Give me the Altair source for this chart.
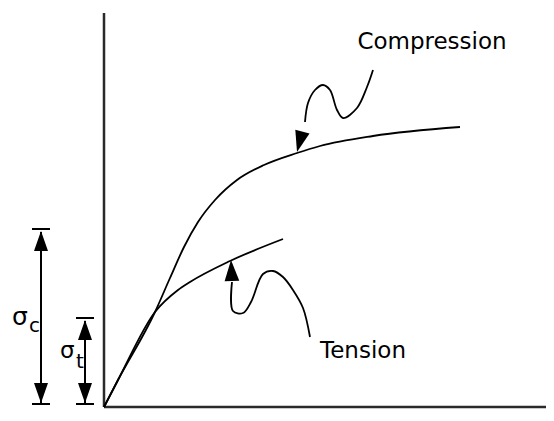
import math
import altair as alt
import pandas as pd

# ---- data (origin = corner of the axes; x = strain, y = stress) ----
comp_x = [0, 14, 51, 66, 80, 94, 111, 133, 160, 193, 216, 269, 356]
comp_y = [0, 27, 95, 129, 160, 185, 207, 227, 242, 254, 261, 271, 280]
tens_x = [0, 14, 51, 74, 86, 126, 179]
tens_y = [0, 27, 95, 117, 125, 146, 168]

# leader (squiggle) lines, from their free end to the arrow base
comp_lead_x = [269, 263, 253, 239, 233, 226, 219, 211, 204, 201]
comp_lead_y = [337, 320, 299, 289, 297, 317, 322, 317, 304, 285]
tens_lead_x = [206, 199, 189, 179, 169, 159, 147, 139, 129, 128]
tens_lead_y = [70, 99, 117, 130, 136, 133, 105, 94, 96, 125]
comp_tip = (193, 255)
tens_tip = (127, 147)

# dimension arrows for sigma_c and sigma_t
sig_x = [-63, -19]
sig_top = [178, 89]
sig_bottom = 3

axis_top = 394
axis_right = 444

labels = ["Compression", "Tension"]
label_x = [328, 259]
label_y = [358, 49]

# ---- tables ----
curve_rows = []
for name, xs, ys in [("comp", comp_x, comp_y), ("tens", tens_x, tens_y)]:
    for i, (a, b) in enumerate(zip(xs, ys)):
        curve_rows.append({"series": name, "x": a, "y": b, "o": i})
curves_df = pd.DataFrame(curve_rows)

lead_rows = []
for name, xs, ys in [("comp_lead", comp_lead_x, comp_lead_y), ("tens_lead", tens_lead_x, tens_lead_y)]:
    for i, (a, b) in enumerate(zip(xs, ys)):
        lead_rows.append({"series": name, "x": a, "y": b, "o": i})
leads_df = pd.DataFrame(lead_rows)

rules = [
    {"x": 0, "y": 0, "x2": 0, "y2": axis_top, "w": 2.5, "c": "#2a2a2a"},
    {"x": 0, "y": 0, "x2": axis_right, "y2": 0, "w": 2.5, "c": "#2a2a2a"},
]
for sx, st in zip(sig_x, sig_top):
    rules.append({"x": sx, "y": sig_bottom + 1, "x2": sx, "y2": st - 3, "w": 2, "c": "black"})
    rules.append({"x": sx - 9, "y": st, "x2": sx + 9, "y2": st, "w": 2, "c": "black"})
    rules.append({"x": sx - 9, "y": sig_bottom, "x2": sx + 9, "y2": sig_bottom, "w": 2, "c": "black"})
rules = pd.DataFrame(rules)


def ang(tip, base):
    dx, dy = tip[0] - base[0], tip[1] - base[1]
    return math.degrees(math.atan2(dx, dy)) % 360


heads = [
    {"x": comp_tip[0], "y": comp_tip[1], "a": ang(comp_tip, (comp_lead_x[-1], comp_lead_y[-1])), "s": 441},
    {"x": tens_tip[0], "y": tens_tip[1], "a": ang(tens_tip, (tens_lead_x[-1], tens_lead_y[-1])), "s": 441},
]
for sx, st in zip(sig_x, sig_top):
    heads.append({"x": sx, "y": st - 2, "a": 0, "s": 400})
    heads.append({"x": sx, "y": sig_bottom + 1, "a": 180, "s": 400})
heads = pd.DataFrame(heads)

texts_c = pd.DataFrame({"t": labels, "x": label_x, "y": label_y, "fs": [23, 23]})
texts_l = pd.DataFrame({
    "t": ["σ", "c", "σ", "t", "ε"],
    "x": [-92, -75, -44, -28, 441],
    "y": [82, 75, 49, 39, -12],
    "fs": [25, 20, 23, 20, 18],
})

# ---- chart ----
XS = alt.Scale(domain=[-96, 442], nice=False, zero=False)
YS = alt.Scale(domain=[-6, 399], nice=False, zero=False)


def X(f):
    return alt.X(f, scale=XS, axis=None)


def Y(f):
    return alt.Y(f, scale=YS, axis=None)


curves = alt.Chart(curves_df).mark_line(interpolate="monotone", color="black", strokeWidth=1.8).encode(
    x=X("x:Q"), y=Y("y:Q"), detail="series:N", order="o:Q"
)

leads = alt.Chart(leads_df).mark_line(interpolate="catmull-rom", color="black", strokeWidth=1.8).encode(
    x=X("x:Q"), y=Y("y:Q"), detail="series:N", order="o:Q"
)

rule_layer = alt.Chart(rules).mark_rule().encode(
    x=X("x:Q"), y=Y("y:Q"), x2="x2:Q", y2="y2:Q",
    strokeWidth=alt.StrokeWidth("w:Q", scale=None),
    color=alt.Color("c:N", scale=None),
)

head_layer = alt.Chart(heads).mark_point(
    shape="M0,0L0.7,2L-0.7,2Z", filled=True, color="black", opacity=1, strokeWidth=0
).encode(
    x=X("x:Q"), y=Y("y:Q"),
    angle=alt.Angle("a:Q", scale=None),
    size=alt.Size("s:Q", scale=None),
)

text_c = alt.Chart(texts_c).mark_text(
    font="DejaVu Sans", align="center", baseline="alphabetic", color="black"
).encode(x=X("x:Q"), y=Y("y:Q"), text="t:N", size=alt.Size("fs:Q", scale=None))

text_l = alt.Chart(texts_l).mark_text(
    font="DejaVu Sans", align="left", baseline="alphabetic", color="black"
).encode(x=X("x:Q"), y=Y("y:Q"), text="t:N", size=alt.Size("fs:Q", scale=None))

chart = alt.layer(rule_layer, curves, leads, head_layer, text_c, text_l).properties(
    width=538, height=405, padding=0, autosize=alt.AutoSizeParams(type="none"),
    background="white",
).configure_view(strokeWidth=0)

chart.save("out.html", embed_options={"renderer": "svg", "actions": False})
